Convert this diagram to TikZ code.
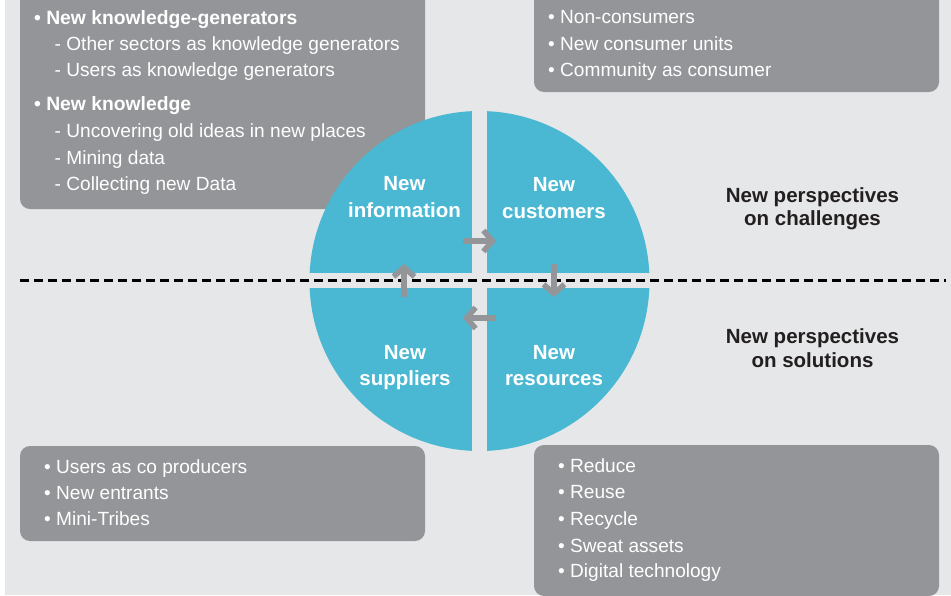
\documentclass[tikz,border=0pt]{standalone}
\usepackage{fontspec}
\setmainfont{Liberation Sans}
\usetikzlibrary{arrows.meta}
\definecolor{bg}{HTML}{E6E7E8}
\definecolor{boxgray}{HTML}{939598}
\definecolor{qblue}{HTML}{4AB8D2}
\definecolor{ink}{HTML}{231F20}
\begin{document}
\begin{tikzpicture}[x=1pt,y=-1pt,
  listtxt/.style={anchor=base west, inner sep=0pt, text=white, font=\fontsize{19.1}{23}\selectfont},
  listbold/.style={anchor=base west, inner sep=0pt, text=white, font=\fontsize{19.3}{23}\selectfont\bfseries},
  quadlbl/.style={anchor=base, inner sep=0pt, text=white, font=\fontsize{20.5}{27}\selectfont\bfseries},
  perlbl/.style={anchor=base, inner sep=0pt, text=ink, font=\fontsize{20.5}{24}\selectfont\bfseries},
  panel/.style={fill=boxgray, rounded corners=10pt},
  gapstrip/.style={fill=bg},
  flow/.style={draw=boxgray, line width=5.5pt, -{Straight Barb[length=9pt,width=21pt,line width=5.5pt]}},
  divider/.style={draw=black, line width=2.5pt, dash pattern=on 8.5pt off 5.5pt},
]
\useasboundingbox (0,0) rectangle (951,595);
\clip (0,0) rectangle (951,595);
\fill[white] (0,0) rectangle (951,595);
\fill[bg] (5,0) rectangle (951,595);

% panels
\fill[panel] (20,-15) rectangle (425,209);
\fill[panel] (534,-15) rectangle (939,92);
\fill[panel] (20,446) rectangle (425,541);
\fill[panel] (534,445) rectangle (939,596);

% circle with gaps
\fill[qblue] (479.5,281) circle[radius=170];
\fill[gapstrip] (472,100) rectangle (487,462);
\fill[gapstrip] (300,273) rectangle (660,288);

% divider
\coordinate (dl) at (20,280.5);
\coordinate (dr) at (946,280.5);
\draw[divider] (dl) -- (dr);

% arrows
\coordinate (a1s) at (463,241); \coordinate (a1e) at (496,241);
\coordinate (a2s) at (554,264); \coordinate (a2e) at (554,297);
\coordinate (a3s) at (496,318); \coordinate (a3e) at (463,318);
\coordinate (a4s) at (404,297); \coordinate (a4e) at (404,264);
\draw[flow] (a1s) -- (a1e);
\draw[flow] (a2s) -- (a2e);
\draw[flow] (a3s) -- (a3e);
\draw[flow] (a4s) -- (a4e);

% quadrant labels
\node[quadlbl] (infoA) at (404.5,190) {New};
\node[quadlbl] (infoB) at (404.5,217) {information};
\node[quadlbl] (custA) at (554,191) {New};
\node[quadlbl] (custB) at (554,218) {customers};
\node[quadlbl] (suppA) at (405,359) {New};
\node[quadlbl] (suppB) at (405,385) {suppliers};
\node[quadlbl] (resA) at (554,359) {New};
\node[quadlbl] (resB) at (554,385) {resources};

% perspective labels
\node[perlbl] (chA) at (812.5,202) {New perspectives};
\node[perlbl] (chB) at (812.5,225) {on challenges};
\node[perlbl] (soA) at (812.5,343) {New perspectives};
\node[perlbl] (soB) at (812.5,367) {on solutions};

% top-left list
\node[listbold] (tl1) at (34,24) {• New knowledge-generators};
\node[listtxt] (tl2) at (54.5,50) {- Other sectors as knowledge generators};
\node[listtxt] (tl3) at (54.5,76) {- Users as knowledge generators};
\node[listbold] (tl4) at (34,110) {• New knowledge};
\node[listtxt] (tl5) at (54.5,137) {- Uncovering old ideas in new places};
\node[listtxt] (tl6) at (54.5,164) {- Mining data};
\node[listtxt] (tl7) at (54.5,190) {- Collecting new Data};

% top-right list
\node[listtxt] (tr1) at (548,23) {• Non-consumers};
\node[listtxt] (tr2) at (548,50) {• New consumer units};
\node[listtxt] (tr3) at (548,76) {• Community as consumer};

% bottom-left list
\node[listtxt] (bl1) at (44,473) {• Users as co producers};
\node[listtxt] (bl2) at (44,499) {• New entrants};
\node[listtxt] (bl3) at (44,525) {• Mini-Tribes};

% bottom-right list
\node[listtxt] (br1) at (558,472) {• Reduce};
\node[listtxt] (br2) at (558,498) {• Reuse};
\node[listtxt] (br3) at (558,525) {• Recycle};
\node[listtxt] (br4) at (558,552) {• Sweat assets};
\node[listtxt] (br5) at (558,577) {• Digital technology};
\end{tikzpicture}
\end{document}
